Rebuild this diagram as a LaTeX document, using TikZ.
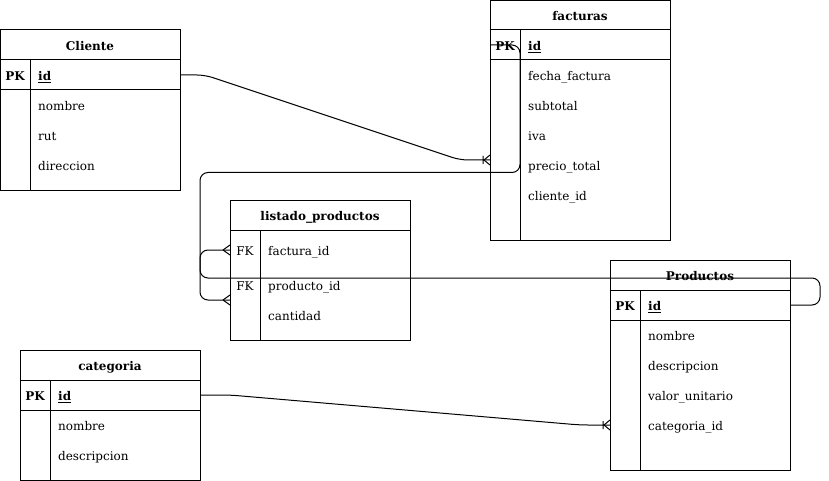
\documentclass[tikz,border=0pt]{standalone}
\usepackage{fontspec}
\setmainfont{DejaVu Serif}
\usepackage{tikz}
\usetikzlibrary{positioning,calc}
\tikzset{
    tbl/.style={
        draw,
        rectangle,
        line width=1pt,
        inner sep=0pt,
        outer sep=0pt
    },
    hdr/.style={font=\bfseries\fontsize{12}{14}\selectfont, inner sep=0pt, text height=11pt, text depth=0pt},
    fld/.style={anchor=west, font=\fontsize{12}{14}\selectfont, inner sep=0pt, text height=11pt, text depth=0pt},
    key/.style={font=\fontsize{12}{14}\selectfont, inner sep=0pt, text height=11pt, text depth=0pt},
    rel/.style={draw, line width=1pt, rounded corners=8pt},
    crow/.pic={\draw[line width=1pt] (-7,0) -- (0,-5) (-7,0) -- (0,5);},
    crowbar/.pic={\draw[line width=1pt] (-6,0) -- (0,-5) (-6,0) -- (0,5) (-7,-4) -- (-7,4);}
}

\begin{document}
\begin{tikzpicture}[x=1pt, y=-1pt]
    \useasboundingbox (0,0) rectangle (829,481);

    % Cliente
    \node[tbl, minimum width=180pt, minimum height=160pt] (cliente) at (90,110) {};
    \draw[line width=1pt] (0,60) -- (180,60) (0,90) -- (180,90) (30,60) -- (30,190);
    \node[hdr] (cli-t) at (90,45) {Cliente};
    \node[key, font=\bfseries\fontsize{12}{14}\selectfont] (cli-pk) at (15,75) {PK};
    \node[fld, font=\bfseries\fontsize{12}{14}\selectfont] (cli-id) at (38,75) {\underline{id}};
    \node[fld] (cli-nom) at (38,105) {nombre};
    \node[fld] (cli-rut) at (38,135) {rut};
    \node[fld] (cli-dir) at (38,165) {direccion};

    % facturas
    \node[tbl, minimum width=180pt, minimum height=239pt] (facturas) at (580,120.5) {};
    \draw[line width=1pt] (490,30) -- (670,30) (490,60) -- (670,60) (520,30) -- (520,240);
    \node[hdr] (fac-t) at (580,15) {facturas};
    \node[key, font=\bfseries\fontsize{12}{14}\selectfont] (fac-pk) at (505,45) {PK};
    \node[fld, font=\bfseries\fontsize{12}{14}\selectfont] (fac-id) at (528,45) {\underline{id}};
    \node[fld] (fac-fecha) at (528,75) {fecha\_factura};
    \node[fld] (fac-sub) at (528,105) {subtotal};
    \node[fld] (fac-iva) at (528,135) {iva};
    \node[fld] (fac-precio) at (528,165) {precio\_total};
    \node[fld] (fac-cli) at (528,195) {cliente\_id};

    % listado_productos
    \node[tbl, minimum width=180pt, minimum height=140pt] (listado) at (320,270) {};
    \draw[line width=1pt] (230,230) -- (410,230) (260,230) -- (260,340);
    \node[hdr] (lis-t) at (320,215) {listado\_productos};
    \node[key] (lis-fk1) at (245,250) {FK};
    \node[fld] (lis-fac) at (268,250) {factura\_id};
    \node[key] (lis-fk2) at (245,285) {FK};
    \node[fld] (lis-prod) at (268,285) {producto\_id};
    \node[fld] (lis-cant) at (268,315) {cantidad};

    % Productos
    \node[tbl, minimum width=180pt, minimum height=210pt] (productos) at (700,365) {};
    \draw[line width=1pt] (610,290) -- (790,290) (610,320) -- (790,320) (640,290) -- (640,470);
    \node[hdr] (pro-t) at (700,275) {Productos};
    \node[key, font=\bfseries\fontsize{12}{14}\selectfont] (pro-pk) at (625,305) {PK};
    \node[fld, font=\bfseries\fontsize{12}{14}\selectfont] (pro-id) at (648,305) {\underline{id}};
    \node[fld] (pro-nom) at (648,335) {nombre};
    \node[fld] (pro-desc) at (648,365) {descripcion};
    \node[fld] (pro-val) at (648,395) {valor\_unitario};
    \node[fld] (pro-cat) at (648,425) {categoria\_id};

    % categoria
    \node[tbl, minimum width=180pt, minimum height=130pt] (categoria) at (110,415) {};
    \draw[line width=1pt] (20,380) -- (200,380) (20,410) -- (200,410) (50,380) -- (50,480);
    \node[hdr] (cat-t) at (110,365) {categoria};
    \node[key, font=\bfseries\fontsize{12}{14}\selectfont] (cat-pk) at (35,395) {PK};
    \node[fld, font=\bfseries\fontsize{12}{14}\selectfont] (cat-id) at (58,395) {\underline{id}};
    \node[fld] (cat-nom) at (58,425) {nombre};
    \node[fld] (cat-desc) at (58,455) {descripcion};

    % relations
    \draw[rel] (cliente.east |- cli-id) -- (205,75) -- (460,160) -- ([yshift=5pt]facturas.west |- fac-precio);
    \pic at ([yshift=5pt]facturas.west |- fac-precio) {crowbar};

    \draw[rel] (facturas.west |- fac-id) -- (520,45) -- (520,172.5) -- (200,172.5) -- (200,300) -- ([yshift=-15pt]listado.west |- lis-prod);
    \pic at ([yshift=-15pt]listado.west |- lis-prod) {crow};

    \draw[rel] (productos.east |- pro-id) -- (820,305) -- (820,278) -- (200,278) -- (200,250) -- (listado.west |- lis-fac);
    \pic at (listado.west |- lis-fac) {crow};

    \draw[rel] (categoria.east |- cat-id) -- (230,395) -- (580,425) -- (productos.west |- pro-cat);
    \pic at (productos.west |- pro-cat) {crowbar};
\end{tikzpicture}
\end{document}
